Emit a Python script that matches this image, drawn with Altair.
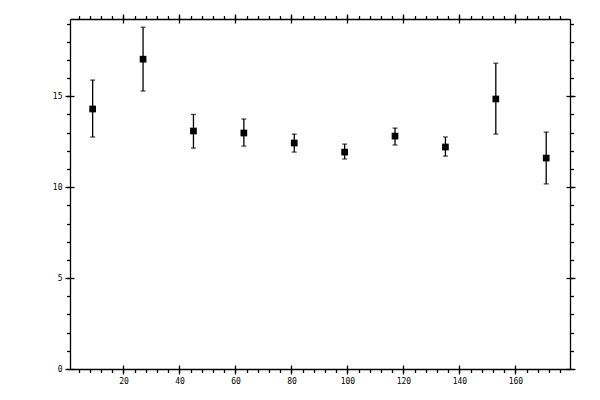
import altair as alt
import pandas as pd

# data
x_vals = [9, 27, 45, 63, 81, 99, 117, 135, 153, 171]
y_vals = [14.30, 17.04, 13.09, 12.98, 12.43, 11.93, 12.81, 12.21, 14.85, 11.60]
y_hi = [15.89, 18.80, 14.00, 13.75, 12.92, 12.37, 13.25, 12.76, 16.82, 13.03]
y_lo = [12.76, 15.29, 12.15, 12.26, 11.93, 11.55, 12.32, 11.71, 12.92, 10.18]

x_major = [20, 40, 60, 80, 100, 120, 140, 160]
x_minor = list(range(4, 180, 4))
y_major = [0, 5, 10, 15]
y_minor = list(range(0, 20))

df = pd.DataFrame({"x": x_vals, "y": y_vals, "hi": y_hi, "lo": y_lo})

XDOM = [0.9, 179.5]
YDOM = [0, 19.25]
FONT = "DejaVu Sans Mono"
LW = 1.3

xs = alt.Scale(domain=XDOM, nice=False, zero=False)
ys = alt.Scale(domain=YDOM, nice=False, zero=False)

base = alt.Chart(df)


def axis_minor(orient, values):
    return alt.Axis(orient=orient, values=values, domain=True, domainColor="black",
                    domainWidth=LW, ticks=True, tickColor="black", tickWidth=LW,
                    tickSize=3.5, labels=False, grid=False, title=None)


def axis_major(orient, values, labels):
    kw = {}
    if labels:
        kw = dict(labelFont=FONT, labelFontSize=8, labelColor="black", labelPadding=3)
    return alt.Axis(orient=orient, values=values, domain=False, ticks=True,
                    tickColor="black", tickWidth=LW, tickSize=9, offset=-4,
                    labels=labels, grid=False, title=None, **kw)


def axis_layer(xaxis, yaxis):
    return base.mark_point(opacity=0).encode(
        x=alt.X("x:Q", scale=xs, axis=xaxis),
        y=alt.Y("y:Q", scale=ys, axis=yaxis),
    )


ax1 = axis_layer(axis_minor("bottom", x_minor), axis_minor("left", y_minor))
ax2 = axis_layer(axis_major("bottom", x_major, True), axis_major("left", y_major, True))
ax3 = axis_layer(axis_minor("top", x_minor), axis_minor("right", y_minor))
ax4 = axis_layer(axis_major("top", x_major, False), axis_major("right", y_major, False))

bars = base.mark_rule(color="black", strokeWidth=LW).encode(
    x=alt.X("x:Q", scale=xs, axis=None),
    y=alt.Y("lo:Q", scale=ys, axis=None),
    y2="hi:Q",
)
cap_hi = base.mark_tick(orient="horizontal", color="black", size=5, thickness=LW).encode(
    x=alt.X("x:Q", scale=xs, axis=None),
    y=alt.Y("hi:Q", scale=ys, axis=None),
)
cap_lo = base.mark_tick(orient="horizontal", color="black", size=5, thickness=LW).encode(
    x=alt.X("x:Q", scale=xs, axis=None),
    y=alt.Y("lo:Q", scale=ys, axis=None),
)
pts = base.mark_square(color="black", size=45, opacity=1, filled=True).encode(
    x=alt.X("x:Q", scale=xs, axis=None),
    y=alt.Y("y:Q", scale=ys, axis=None),
)

chart = alt.layer(ax1, ax2, ax3, ax4, bars, cap_hi, cap_lo, pts).resolve_axis(
    x="independent", y="independent"
).properties(
    width=500, height=350,
    autosize=alt.AutoSizeParams(type="none"),
    padding={"left": 62, "top": 11, "right": 20, "bottom": 20},
    background="white",
).configure_view(strokeWidth=0)

chart.save("out.html", embed_options={"renderer": "svg", "actions": False})
